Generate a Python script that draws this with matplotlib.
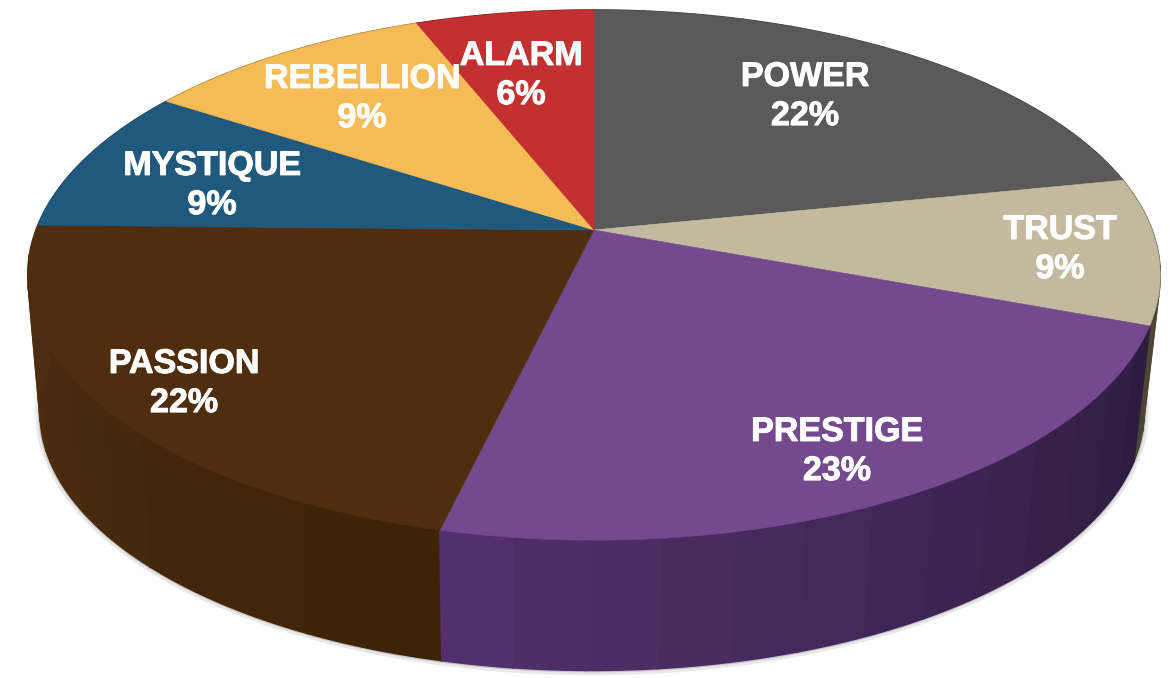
import numpy as np
import matplotlib
matplotlib.use("Agg")
import matplotlib.pyplot as plt
import matplotlib.patheffects as pe
from matplotlib.colors import to_rgb
from matplotlib.transforms import Transform

names = ["POWER", "TRUST", "PRESTIGE", "PASSION", "MYSTIQUE", "REBELLION", "ALARM"]
percent_labels = [22, 9, 23, 22, 9, 9, 6]
# slice sizes as measured on the picture, the printed labels are rounded
slice_sizes = [21.8, 8.9, 23.0, 21.6, 8.9, 9.8, 6.0]

top_colors = ["#5a5a5b", "#c3b99e", "#744a8f", "#4f2e10", "#1f5a7e", "#f5bb57", "#c33032"]
# wall colour at the clockwise start and end of each slice
wall_start = ["#3c3c3c", "#5f563f", "#2d1b3e", "#3e2206", "#123a52", "#9a7430", "#7a1c1e"]
wall_end = ["#3c3c3c", "#4a4332", "#53316d", "#4f2e10", "#123a52", "#9a7430", "#7a1c1e"]

label_x = [805, 1060, 837, 184, 212, 362, 521]
label_y = [97, 250, 452, 384, 186, 99, 76]

# walls are painted back to front so the hidden ones cannot show through
wall_order = [6, 0, 5, 4, 1, 3, 2]


class Perspective(Transform):
    # maps the unit disk of the pie to picture pixels
    input_dims = 2
    output_dims = 2

    def __init__(self, x0, y0, a, b, k):
        super().__init__()
        self.x0, self.y0, self.a, self.b, self.k = x0, y0, a, b, k

    def transform_non_affine(self, values):
        values = np.asarray(values)
        w = 1 + self.k * values[:, 1]
        return np.column_stack([self.x0 + self.a * values[:, 0] / w,
                                self.y0 - self.b * values[:, 1] / w])


top = Perspective(594, 230, 558, 257.4, 0.17)
bottom = Perspective(592, 368, 544, 251, 0.17)

fig = plt.figure(figsize=(11.7, 6.78), dpi=100)
ax = fig.add_axes([0, 0, 1, 1])

wedges, _ = ax.pie(slice_sizes, colors=top_colors, startangle=90, counterclock=False,
                   wedgeprops=dict(linewidth=0.4), normalize=True)
ax.set_aspect("auto")
ax.set_xlim(0, 1170)
ax.set_ylim(678, 0)
ax.axis("off")

edges = np.concatenate([[0], np.cumsum(slice_sizes)]) / np.sum(slice_sizes) * 2 * np.pi

# soft shadow under the bottom rim, then the walls as narrow strips
t = np.linspace(0, 2 * np.pi, 400)
rim = np.column_stack([np.sin(t), np.cos(t)])
ax.plot(*bottom.transform(rim).T, color="#888888", alpha=0.18, lw=7, zorder=1)
ax.plot(*bottom.transform(rim).T, color="#777777", alpha=0.3, lw=3, zorder=1)

for i in wall_order:
    n = max(int(slice_sizes[i] * 0.6), 3)
    th = np.linspace(edges[i], edges[i + 1], n * 8 + 1)
    c1, c2 = np.array(to_rgb(wall_start[i])), np.array(to_rgb(wall_end[i]))
    for j in range(n):
        part = th[j * 8:(j + 1) * 8 + 1]
        seg = np.column_stack([np.sin(part), np.cos(part)])
        quad = np.vstack([top.transform(seg), bottom.transform(seg)[::-1]])
        col = c1 + (c2 - c1) * (j + 0.5) / n
        ax.fill(quad[:, 0], quad[:, 1], color=col, lw=1.2, zorder=2)

for w in wedges:
    w.set_transform(top + ax.transData)
    w.set_edgecolor(w.get_facecolor())
    w.set_clip_on(False)
    w.set_zorder(3)

for name, p, x, y in zip(names, percent_labels, label_x, label_y):
    ax.text(x, y, f"{name}\n{p}%", color="white", family="Liberation Sans", weight="bold",
            fontsize=24.5, ha="center", va="center", linespacing=1.34, zorder=5,
            path_effects=[pe.withStroke(linewidth=0.7, foreground="white")])

fig.savefig("out.png", dpi=100, facecolor="white")
